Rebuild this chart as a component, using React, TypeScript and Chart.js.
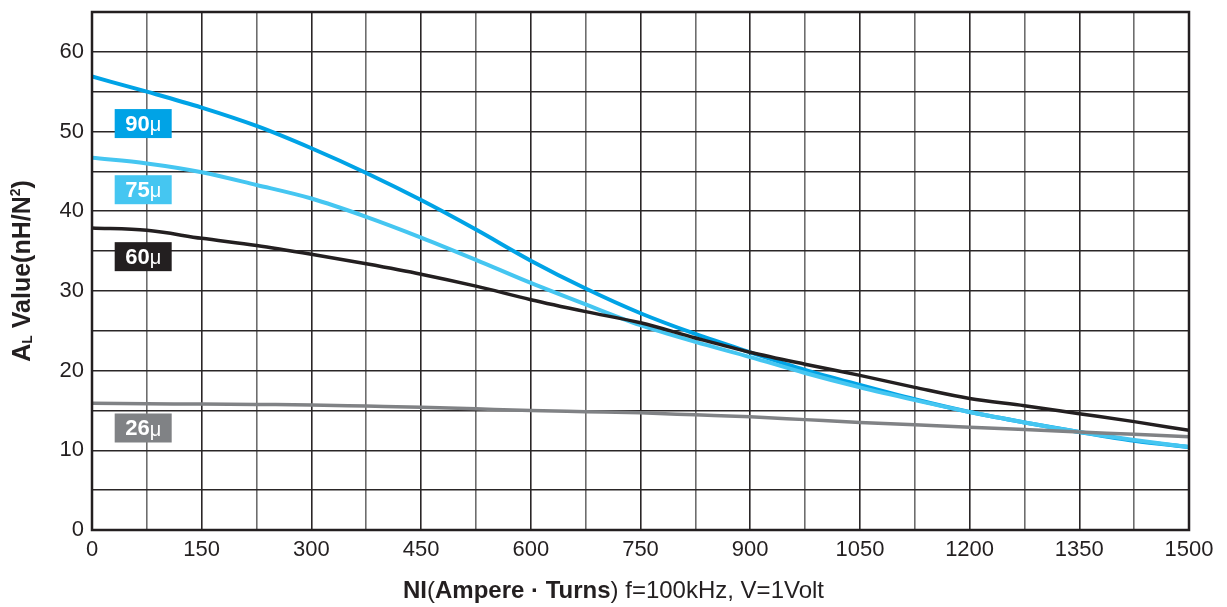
import React, { useEffect, useRef } from "react";
import { Chart, registerables } from "chart.js";

Chart.register(...registerables);

const niValues = [0, 75, 150, 225, 300, 375, 450, 525, 600, 675, 750, 825, 900, 975, 1050, 1125, 1200, 1275, 1350, 1425, 1500];
const mu90 = [56.9, 55.0, 53.0, 50.7, 47.9, 44.8, 41.4, 37.7, 33.8, 30.3, 27.2, 24.6, 22.3, 20.1, 18.2, 16.4, 14.8, 13.5, 12.3, 11.2, 10.4];
const mu75 = [46.7, 46.0, 44.9, 43.3, 41.6, 39.3, 36.7, 33.9, 31.0, 28.3, 25.7, 23.6, 21.7, 19.7, 17.9, 16.3, 14.8, 13.5, 12.3, 11.3, 10.4];
const mu60 = [37.9, 37.6, 36.6, 35.7, 34.6, 33.4, 32.1, 30.6, 28.9, 27.4, 26.0, 24.1, 22.3, 20.8, 19.4, 17.9, 16.5, 15.6, 14.6, 13.6, 12.5];
const mu26 = [15.9, 15.85, 15.8, 15.75, 15.7, 15.55, 15.4, 15.2, 15.0, 14.85, 14.7, 14.45, 14.2, 13.85, 13.5, 13.2, 12.9, 12.6, 12.3, 12.0, 11.7];

const seriesNames = ["90μ", "75μ", "60μ", "26μ"];
const seriesColors = ["#00a3e6", "#45c6f1", "#231f20", "#808285"];
const seriesWidths = [4, 4, 3.5, 3.5];
const labelNumbers = ["90", "75", "60", "26"];
const labelCenterX = 70;
const labelCenterY = [51.0, 42.7, 34.3, 12.8];

const FONT = "'Liberation Sans', Arial, Helvetica, sans-serif";

const toPoints = (ys: number[]) => niValues.map((x, i) => ({ x, y: ys[i] }));

const decorPlugin = {
  id: "decor",
  afterDatasetsDraw(chart: any) {
    const { ctx, chartArea, scales } = chart;
    const xs = scales.x;
    const ys = scales.y;
    ctx.save();
    ctx.strokeStyle = "#231f20";
    ctx.lineWidth = 2.5;
    ctx.strokeRect(chartArea.left, chartArea.top, chartArea.right - chartArea.left, chartArea.bottom - chartArea.top);

    labelNumbers.forEach((num, i) => {
      const cx = xs.getPixelForValue(labelCenterX);
      const cy = ys.getPixelForValue(labelCenterY[i]);
      const w = 57;
      const h = 29;
      ctx.fillStyle = seriesColors[i];
      ctx.fillRect(cx - w / 2, cy - h / 2, w, h);
      ctx.fillStyle = "#ffffff";
      ctx.textBaseline = "middle";
      ctx.textAlign = "left";
      ctx.font = `bold 22px ${FONT}`;
      const nw = ctx.measureText(num).width;
      ctx.font = `20px ${FONT}`;
      const mw = ctx.measureText("μ").width;
      const start = cx - (nw + mw) / 2;
      ctx.font = `bold 22px ${FONT}`;
      ctx.fillText(num, start, cy + 1);
      ctx.font = `20px ${FONT}`;
      ctx.fillText("μ", start + nw, cy + 2);
    });

    const parts: [string, boolean][] = [
      ["NI", true],
      ["(", false],
      ["Ampere", true],
      [" · ", true],
      ["Turns", true],
      [")", false],
      [" f=100kHz, V=1Volt", false],
    ];
    ctx.fillStyle = "#231f20";
    ctx.textBaseline = "alphabetic";
    ctx.textAlign = "left";
    const size = 24;
    let total = 0;
    const widths = parts.map(([t, b]) => {
      ctx.font = `${b ? "bold " : ""}${size}px ${FONT}`;
      const w = ctx.measureText(t).width;
      total += w;
      return w;
    });
    let px = chart.width / 2 - total / 2;
    const baseY = 598;
    parts.forEach(([t, b], i) => {
      ctx.font = `${b ? "bold " : ""}${size}px ${FONT}`;
      ctx.fillText(t, px, baseY);
      px += widths[i];
    });

    const yparts: [string, number, number][] = [
      ["A", 25, 0],
      ["L", 14, 2],
      [" Value(nH/N", 25, 0],
      ["2", 14, -10],
      [")", 25, 0],
    ];
    ctx.save();
    ctx.translate(30, (chartArea.top + chartArea.bottom) / 2);
    ctx.rotate(-Math.PI / 2);
    let ytotal = 0;
    const yw = yparts.map(([t, s]) => {
      ctx.font = `bold ${s}px ${FONT}`;
      const w = ctx.measureText(t).width;
      ytotal += w;
      return w;
    });
    let ty = -ytotal / 2;
    yparts.forEach(([t, s, off], i) => {
      ctx.font = `bold ${s}px ${FONT}`;
      ctx.fillText(t, ty, off);
      ty += yw[i];
    });
    ctx.restore();

    ctx.restore();
  },
};

export default function App() {
  const canvasRef = useRef<HTMLCanvasElement | null>(null);

  useEffect(() => {
    if (!canvasRef.current) return;
    const allSeries = [mu90, mu75, mu60, mu26];
    const order = [3, 2, 1, 0];
    const chart = new Chart(canvasRef.current, {
      type: "line",
      data: {
        datasets: order.map((i) => ({
          label: seriesNames[i],
          data: toPoints(allSeries[i]),
          borderColor: seriesColors[i],
          backgroundColor: seriesColors[i],
          borderWidth: seriesWidths[i],
          pointRadius: 0,
          fill: false,
          cubicInterpolationMode: "monotone" as const,
        })),
      },
      options: {
        animation: false,
        responsive: false,
        maintainAspectRatio: false,
        layout: { padding: { top: 12, right: 38, left: 0, bottom: 0 } },
        plugins: { legend: { display: false }, tooltip: { enabled: false }, title: { display: false } },
        scales: {
          x: {
            type: "linear",
            min: 0,
            max: 1500,
            afterFit: (s: any) => {
              s.height = 77;
            },
            ticks: {
              stepSize: 75,
              autoSkip: false,
              maxRotation: 0,
              padding: 7,
              color: "#231f20",
              font: { family: FONT, size: 22 },
              callback: (v: any) => (Number(v) % 150 === 0 ? String(v) : ""),
            },
            grid: {
              drawTicks: false,
              lineWidth: 1.6,
              color: (c: any) => (c.tick && c.tick.value % 150 === 0 ? "#2a2627" : "#6d6d6d"),
            },
            border: { display: false },
          },
          y: {
            type: "linear",
            min: 0,
            max: 65,
            afterFit: (s: any) => {
              s.width = 92;
              s.paddingTop = 0;
              s.paddingBottom = 0;
            },
            ticks: {
              stepSize: 5,
              autoSkip: false,
              padding: 8,
              color: "#231f20",
              font: { family: FONT, size: 22 },
              callback: (v: any) => (Number(v) % 10 === 0 ? String(v) : ""),
            },
            grid: {
              drawTicks: false,
              lineWidth: 1.6,
              color: "#2a2627",
            },
            border: { display: false },
          },
        },
      },
      plugins: [decorPlugin],
    });
    return () => chart.destroy();
  }, []);

  return (
    <div style={{ position: "absolute", left: 0, top: 0, width: 1227, height: 607, background: "#fff" }}>
      <canvas ref={canvasRef} width={1227} height={607} style={{ display: "block" }} />
    </div>
  );
}
